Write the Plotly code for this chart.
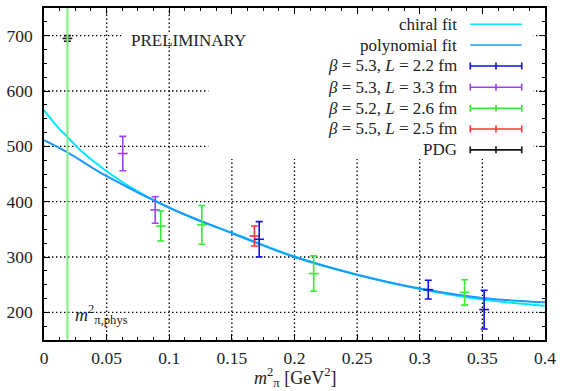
import plotly.graph_objects as go

# ---------------- data ----------------
chiral_x = [0.0, 0.005, 0.01, 0.0187, 0.03, 0.05, 0.07, 0.09, 0.12, 0.15, 0.2, 0.25, 0.3, 0.35, 0.4]
chiral_y = [565, 551, 537, 517, 491, 455, 425, 400, 369, 344, 301, 268, 242, 223, 212]

poly_x = [0.0, 0.0187, 0.05, 0.1, 0.15, 0.2, 0.25, 0.3, 0.35, 0.4]
poly_y = [511, 489, 446, 389, 343, 300, 268, 243, 226, 218]

b53_22_x = [0.1718, 0.3068, 0.3514]
b53_22_y = [332, 241, 205]
b53_22_e = [32, 17, 35]

b53_33_x = [0.0629, 0.0888]
b53_33_y = [487, 385]
b53_33_e = [31, 24]

b52_26_x = [0.0932, 0.126, 0.2153, 0.3358]
b52_26_y = [356, 358, 270, 236]
b52_26_e = [27, 35, 32, 23]

b55_25_x = [0.168]
b55_25_y = [338]
b55_25_e = [18]

pdg_x = [0.0187]
pdg_y = [695]
pdg_e = [5]

m_pi_phys_sq = 0.0187

x_ticks = [0, 0.05, 0.1, 0.15, 0.2, 0.25, 0.3, 0.35, 0.4]
x_tick_text = ["0", "0.05", "0.1", "0.15", "0.2", "0.25", "0.3", "0.35", "0.4"]
y_ticks = [200, 300, 400, 500, 600, 700]

legend_labels = [
    "chiral fit",
    "polynomial fit",
    "<i>β</i> = 5.3, <i>L</i> = 2.2 fm",
    "<i>β</i> = 5.3, <i>L</i> = 3.3 fm",
    "<i>β</i> = 5.2, <i>L</i> = 2.6 fm",
    "<i>β</i> = 5.5, <i>L</i> = 2.5 fm",
    "PDG",
]

# ---------------- styles ----------------
C_CHIRAL = "#00e8ff"
C_POLY = "#1a9aff"
C_BLUE = "#1010e8"
C_PURPLE = "#a040f0"
C_GREEN = "#33ee33"
C_RED = "#ff3333"
C_BLACK = "#111111"
C_PHYS = "#80ee80"
legend_colors = [C_CHIRAL, C_POLY, C_BLUE, C_PURPLE, C_GREEN, C_RED, C_BLACK]
legend_is_bar = [False, False, True, True, True, True, True]

FONT = "Liberation Serif"
TXT = "#222222"

W, H = 562, 391
ML, MR, MT, MB = 44, 12, 6, 51
PW, PH = W - ML - MR, H - MT - MB


def px_to_paper_x(px):
    return (px - ML) / PW


def px_to_paper_y(py):
    return (H - MB - py) / PH


fig = go.Figure()

fig.add_trace(go.Scatter(x=chiral_x, y=chiral_y, mode="lines", line=dict(color=C_CHIRAL, width=2, shape="spline"),
                         showlegend=False, hoverinfo="skip"))
fig.add_trace(go.Scatter(x=poly_x, y=poly_y, mode="lines", line=dict(color=C_POLY, width=2, shape="spline"),
                         showlegend=False, hoverinfo="skip"))


def add_err(xs, ys, es, color):
    fig.add_trace(go.Scatter(
        x=xs, y=ys, mode="markers",
        marker=dict(symbol="line-ew", size=7, color=color, line=dict(color=color, width=1.6)),
        error_y=dict(type="data", array=es, visible=True, color=color, thickness=1.6, width=3.5),
        showlegend=False))


add_err(b53_33_x, b53_33_y, b53_33_e, C_PURPLE)
add_err(b52_26_x, b52_26_y, b52_26_e, C_GREEN)
add_err(b55_25_x, b55_25_y, b55_25_e, C_RED)
add_err(b53_22_x, b53_22_y, b53_22_e, C_BLUE)
add_err(pdg_x, pdg_y, pdg_e, C_BLACK)

GRID = dict(color="black", width=1.3, dash="1.4px,2.6px")
shapes = []
# dotted grid drawn as shapes (so the key box can hide it)
for xv in x_ticks[1:-1]:
    shapes.append(dict(type="line", xref="x", yref="paper", x0=xv, x1=xv, y0=0, y1=1, line=GRID, layer="below"))
for yv in y_ticks:
    shapes.append(dict(type="line", xref="paper", yref="y", x0=0, x1=1, y0=yv, y1=yv, line=GRID, layer="below"))
# opaque key box (hides grid)
shapes.append(dict(type="rect", xref="paper", yref="paper",
                   x0=px_to_paper_x(210), x1=px_to_paper_x(538), y0=px_to_paper_y(158), y1=1,
                   fillcolor="white", line=dict(width=0), layer="below"))
shapes.append(dict(type="rect", xref="paper", yref="paper",
                   x0=px_to_paper_x(122), x1=px_to_paper_x(211), y0=px_to_paper_y(37), y1=px_to_paper_y(31),
                   fillcolor="white", line=dict(width=0), layer="below"))
# physical pion mass line
shapes.append(dict(type="line", xref="x", yref="paper", x0=m_pi_phys_sq, x1=m_pi_phys_sq, y0=0, y1=1,
                   line=dict(color=C_PHYS, width=2), layer="above"))

annotations = []
row_y = [22.3, 43.3, 64.3, 85.7, 107.0, 127.7, 148.7]
tx = px_to_paper_x(463)
sx0, sx1, sxm = px_to_paper_x(474.5), px_to_paper_x(526.5), px_to_paper_x(500.5)
cap = 3.5 / PH
for lab, col, isbar, ry in zip(legend_labels, legend_colors, legend_is_bar, row_y):
    py = px_to_paper_y(ry)
    annotations.append(dict(xref="paper", yref="paper", x=tx, y=py, text=lab, showarrow=False,
                            xanchor="right", yanchor="middle", font=dict(family=FONT, size=17, color=TXT)))
    shapes.append(dict(type="line", xref="paper", yref="paper", x0=sx0, x1=sx1, y0=py, y1=py,
                       line=dict(color=col, width=1.6 if isbar else 1.5), layer="above"))
    if isbar:
        for xx in (sx0, sx1, sxm):
            shapes.append(dict(type="line", xref="paper", yref="paper", x0=xx, x1=xx, y0=py - cap, y1=py + cap,
                               line=dict(color=col, width=1.6), layer="above"))

annotations.append(dict(xref="paper", yref="paper", x=px_to_paper_x(190), y=px_to_paper_y(39), text="PRELIMINARY",
                        showarrow=False, xanchor="center", yanchor="middle",
                        font=dict(family=FONT, size=17, color=TXT)))
annotations.append(dict(xref="paper", yref="paper", x=px_to_paper_x(73), y=px_to_paper_y(314),
                        text="<i>m</i><sup>2</sup><sub>π,phys</sub>", showarrow=False, xanchor="left",
                        yanchor="middle", font=dict(family=FONT, size=18, color=TXT)))
annotations.append(dict(xref="paper", yref="paper", x=px_to_paper_x(297), y=px_to_paper_y(378),
                        text="<i>m</i><sup>2</sup><sub>π</sub> [GeV<sup>2</sup>]", showarrow=False,
                        xanchor="center", yanchor="middle", font=dict(family=FONT, size=18, color=TXT)))

axis_common = dict(showline=True, linecolor="black", linewidth=1.5, mirror="allticks", ticks="inside",
                   tickcolor="black", ticklen=6, tickwidth=1, showgrid=False, zeroline=False,
                   tickfont=dict(family=FONT, size=17.5, color=TXT))

fig.update_layout(
    width=W, height=H, margin=dict(l=ML, r=MR, t=MT, b=MB),
    paper_bgcolor="white", plot_bgcolor="white", showlegend=False,
    shapes=shapes, annotations=annotations,
    xaxis=dict(range=[0, 0.4], tickvals=x_ticks, ticktext=x_tick_text,
               minor=dict(dtick=0.0125, ticks="inside", ticklen=3, tickcolor="black", showgrid=False),
               ticklabelstandoff=1, **axis_common),
    yaxis=dict(range=[150, 750], tickvals=y_ticks,
               minor=dict(dtick=25, ticks="inside", ticklen=3, tickcolor="black", showgrid=False),
               ticklabelstandoff=6, **axis_common),
)

fig.write_html("out.html", config={"displayModeBar": False},
               post_script="document.body.style.margin='0';document.body.style.padding='0';")
